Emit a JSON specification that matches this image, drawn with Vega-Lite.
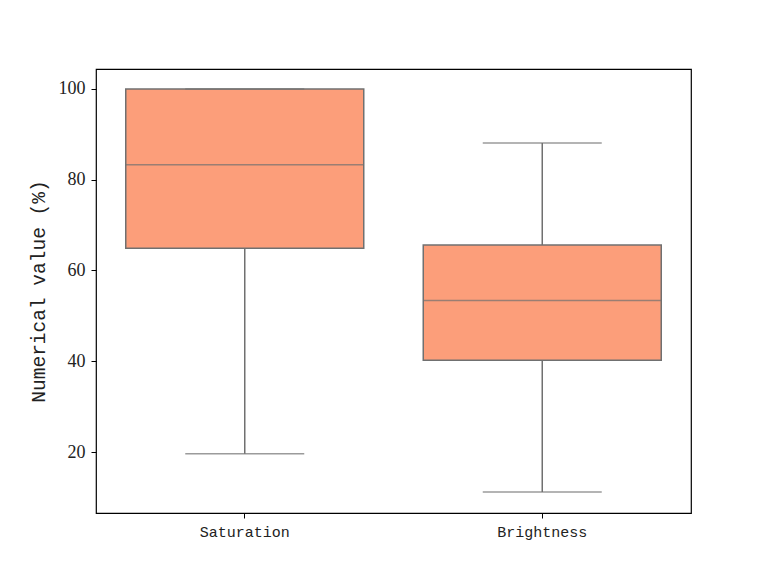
{
  "$schema": "https://vega.github.io/schema/vega-lite/v6.json",
  "autosize": "none",
  "width": 595,
  "height": 444,
  "padding": {"left": 96, "top": 69, "right": 77, "bottom": 63},
  "background": "white",
  "config": {
    "view": {"stroke": "black", "strokeWidth": 1.2},
    "axis": {"grid": false, "domainColor": "black", "tickColor": "black", "labelColor": "#222222", "titleColor": "#222222"}
  },
  "data": {
    "values": [
      {"cat": "Saturation", "lo": 19.6, "q1": 64.9, "med": 83.3, "q3": 100.0, "hi": 100.0},
      {"cat": "Brightness", "lo": 11.2, "q1": 40.2, "med": 53.4, "q3": 65.6, "hi": 88.1}
    ]
  },
  "encoding": {
    "x": {
      "field": "cat", "type": "nominal", "sort": ["Saturation", "Brightness"],
      "scale": {"paddingInner": 0, "paddingOuter": 0},
      "axis": {"title": null, "labelAngle": 0, "labelFont": "Liberation Mono", "labelFontSize": 15, "labelPadding": 6, "tickSize": 5, "domain": false}
    }
  },
  "layer": [
    {
      "mark": {"type": "rule", "color": "#707070", "strokeWidth": 1.5},
      "encoding": {
        "y": {"field": "lo", "type": "quantitative", "scale": {"domain": [6.56, 104.4], "nice": false, "zero": false},
          "axis": {"title": "Numerical value (%)", "titleFont": "Liberation Mono", "titleFontSize": 19.5, "titleFontWeight": "normal", "titlePadding": 10,
            "values": [20, 40, 60, 80, 100], "labelFont": "Liberation Serif", "labelFontSize": 18, "tickSize": 5, "labelPadding": 6, "domain": false}},
        "y2": {"field": "hi"}
      }
    },
    {
      "mark": {"type": "bar", "size": 238, "fill": "#fc9e7a", "stroke": "#707070", "strokeWidth": 1.5},
      "encoding": {
        "y": {"field": "q1", "type": "quantitative"},
        "y2": {"field": "q3"}
      }
    },
    {
      "mark": {"type": "tick", "size": 238, "color": "#707070", "thickness": 1.5},
      "encoding": {"y": {"field": "med", "type": "quantitative"}}
    },
    {
      "mark": {"type": "tick", "size": 119, "color": "#707070", "thickness": 1.5},
      "encoding": {"y": {"field": "lo", "type": "quantitative"}}
    },
    {
      "mark": {"type": "tick", "size": 119, "color": "#707070", "thickness": 1.5},
      "encoding": {"y": {"field": "hi", "type": "quantitative"}}
    }
  ]
}
